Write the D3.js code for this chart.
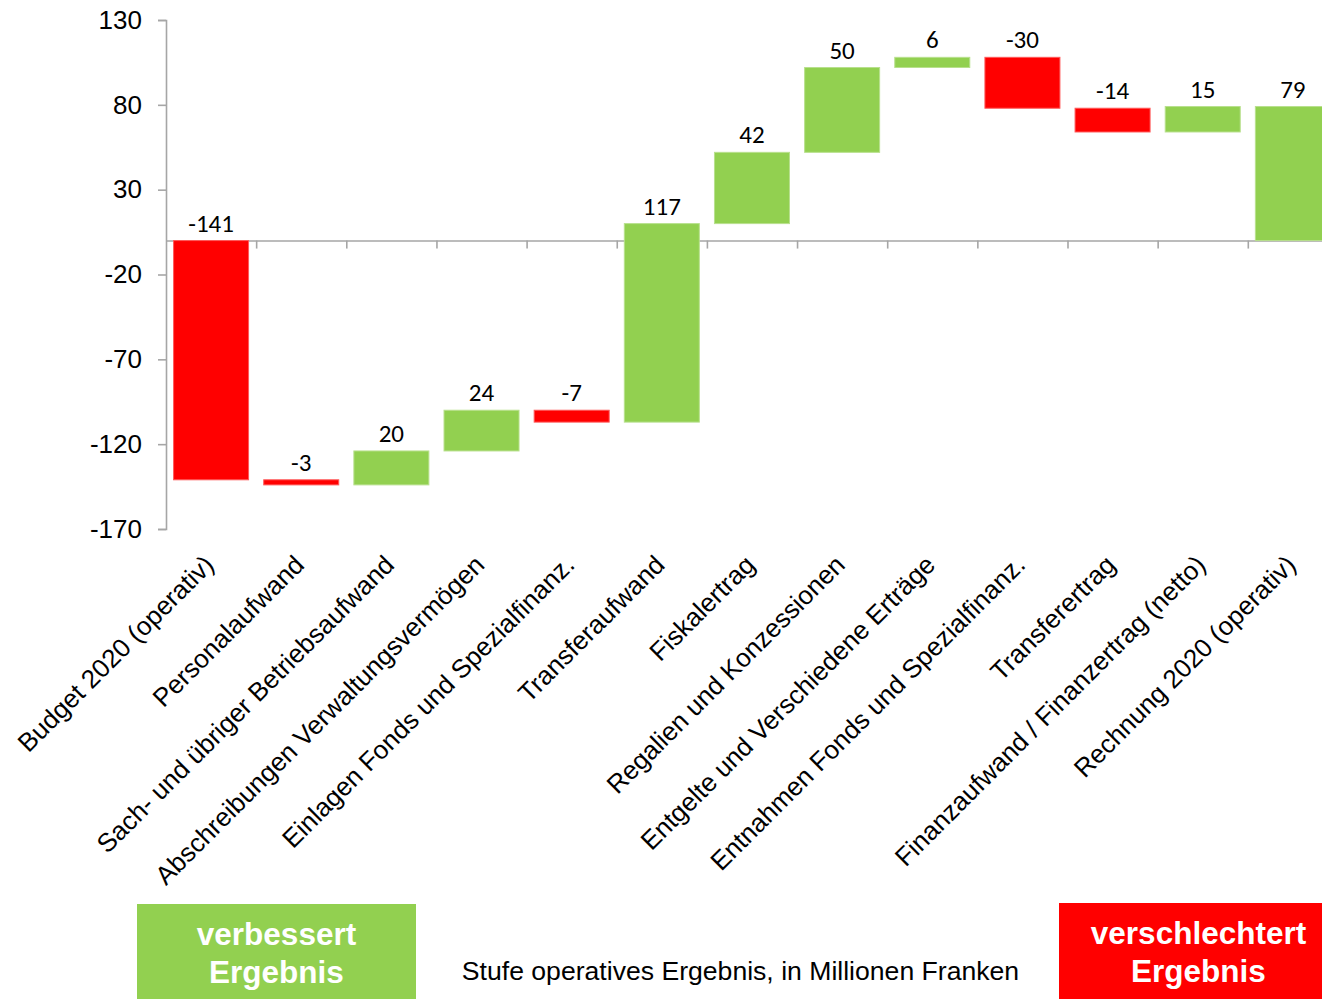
<!DOCTYPE html>
<html>
<head>
<meta charset="utf-8">
<script src="https://cdn.jsdelivr.net/npm/d3@7"></script>
<style>
  html, body { margin: 0; padding: 0; background: #fff; }
  svg { display: block; }
</style>
</head>
<body>
<svg id="chart" width="1322" height="999"></svg>
<script>
// ---- data ----
const categories = [
  "Budget 2020 (operativ)",
  "Personalaufwand",
  "Sach- und übriger Betriebsaufwand",
  "Abschreibungen Verwaltungsvermögen",
  "Einlagen Fonds und Spezialfinanz.",
  "Transferaufwand",
  "Fiskalertrag",
  "Regalien und Konzessionen",
  "Entgelte und Verschiedene Erträge",
  "Entnahmen Fonds und Spezialfinanz.",
  "Transferertrag",
  "Finanzaufwand / Finanzertrag (netto)",
  "Rechnung 2020 (operativ)"
];
const values = [-141, -3, 20, 24, -7, 117, 42, 50, 6, -30, -14, 15, 79];
const kinds = ["total","delta","delta","delta","delta","delta","delta","delta","delta","delta","delta","delta","total"];
const yTicks = [-170, -120, -70, -20, 30, 80, 130];
const legendImproved = ["verbessert", "Ergebnis"];
const legendWorsened = ["verschlechtert", "Ergebnis"];
const subtitle = "Stufe operatives Ergebnis, in Millionen Franken";

// ---- build waterfall rows ----
let running = 0;
const rows = categories.map((c, i) => {
  let start, end;
  if (kinds[i] === "total") { start = 0; end = values[i]; running = values[i]; }
  else { start = running; end = running + values[i]; running = end; }
  return { cat: c, value: values[i], start, end };
});

// ---- layout ----
const GREEN = "#92D050", RED = "#FF0000", AXIS = "#A6A6A6";
const svg = d3.select("#chart");
const left = 166, step = 90.15, n = categories.length;
const pad = 0.168;

const y = d3.scaleLinear().domain([-170, 130]).range([529, 20]);
const x = d3.scaleBand().domain(categories)
  .range([left, left + n * step]).paddingInner(pad).paddingOuter(pad / 2);
const xIdx = d3.scaleLinear().domain([0, n]).range([left, left + n * step]);

// y axis
const yAxis = svg.append("g").attr("transform", `translate(${left},0)`)
  .call(d3.axisLeft(y).tickValues(yTicks).tickFormat(d => String(d))
    .tickSize(8).tickSizeOuter(8).tickPadding(16));
yAxis.select(".domain").attr("stroke", AXIS).attr("stroke-width", 1.6);
yAxis.selectAll(".tick line").attr("stroke", AXIS).attr("stroke-width", 1.6);
yAxis.selectAll(".tick text")
  .attr("font-family", "'Liberation Sans', Arial, sans-serif")
  .attr("font-size", 26).attr("fill", "#000");

// x axis at zero line, ticks at category boundaries
const xAxis = svg.append("g").attr("transform", `translate(0,${y(0)})`)
  .call(d3.axisBottom(xIdx).tickValues(d3.range(1, n)).tickSize(8).tickSizeOuter(0).tickFormat(""));
xAxis.select(".domain").attr("stroke", AXIS).attr("stroke-width", 1.6);
xAxis.selectAll(".tick line").attr("stroke", AXIS).attr("stroke-width", 1.6);

// bars
svg.append("g").selectAll("rect").data(rows).join("rect")
  .attr("x", d => x(d.cat))
  .attr("width", x.bandwidth())
  .attr("y", d => y(Math.max(d.start, d.end)))
  .attr("height", d => Math.abs(y(d.start) - y(d.end)))
  .attr("fill", d => d.value < 0 ? RED : GREEN)
  .attr("stroke", d => d3.interpolateRgb(d.value < 0 ? RED : GREEN, "#fff")(0.35))
  .attr("stroke-width", 1);

// value labels
svg.append("g").selectAll("text").data(rows).join("text")
  .attr("x", d => x(d.cat) + x.bandwidth() / 2)
  .attr("y", d => y(Math.max(d.start, d.end)) - 9)
  .attr("text-anchor", "middle")
  .attr("font-family", "Carlito, Lato, 'Open Sans', sans-serif")
  .attr("font-size", 25)
  .attr("fill", "#000")
  .text(d => d.value);

// category labels (rotated)
svg.append("g").selectAll("text").data(rows).join("text")
  .attr("transform", d => `translate(${x(d.cat) + x.bandwidth() / 2 + 4.4},566.4) rotate(-45)`)
  .attr("text-anchor", "end")
  .attr("font-family", "'Liberation Sans', Arial, sans-serif")
  .attr("font-size", 26)
  .attr("fill", "#000")
  .text(d => d.cat);

// legend boxes
function box(x0, y0, w, h, color, lines) {
  svg.append("rect").attr("x", x0).attr("y", y0).attr("width", w).attr("height", h).attr("fill", color);
  svg.append("g").selectAll("text").data(lines).join("text")
    .attr("x", x0 + w / 2)
    .attr("y", (d, i) => y0 + 41 + i * 38)
    .attr("text-anchor", "middle")
    .attr("font-family", "'Liberation Sans', Arial, sans-serif")
    .attr("font-weight", "bold")
    .attr("font-size", 31.5)
    .attr("fill", "#fff")
    .text(d => d);
}
box(137, 904, 279, 95, GREEN, legendImproved);
box(1059, 903, 279, 96, RED, legendWorsened);

svg.append("text")
  .attr("x", 740.5).attr("y", 980)
  .attr("text-anchor", "middle")
  .attr("font-family", "'Liberation Sans', Arial, sans-serif")
  .attr("font-size", 26.6)
  .attr("fill", "#000")
  .text(subtitle);
</script>
</body>
</html>
